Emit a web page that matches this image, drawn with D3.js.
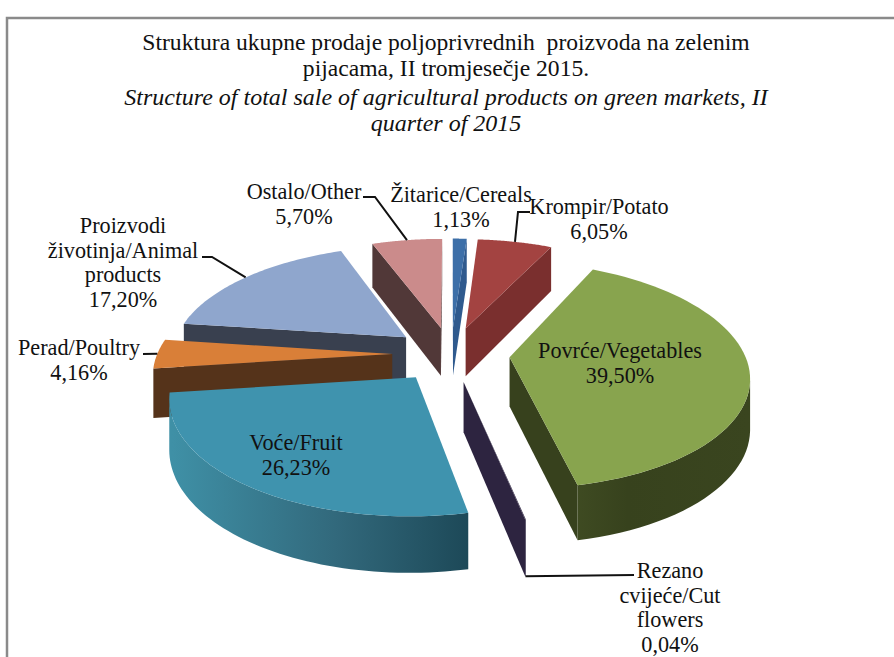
<!DOCTYPE html>
<html>
<head>
<meta charset="utf-8">
<script src="https://cdn.jsdelivr.net/npm/d3@7"></script>
<style>
    html, body { margin: 0; padding: 0; background: #fff; }
    text { font-family: "Liberation Serif", serif; fill: #111; }
</style>
</head>
<body>
<svg id="svg" width="894" height="657"></svg>
<script>
//Data
const CATEGORIES = ["Žitarice/Cereals", "Krompir/Potato", "Povrće/Vegetables", "Rezano cvijeće/Cut flowers", "Voće/Fruit", "Perad/Poultry", "Proizvodi životinja/Animal products", "Ostalo/Other"];
const VALUES = [1.13, 6.05, 39.50, 0.04, 26.23, 4.16, 17.20, 5.70];
const TOP_COLORS = ["#3d6fa8", "#a34341", "#88a44e", "#2d2440", "#3f93ae", "#d97f38", "#8fa6cd", "#cb8b8b"];
const WALL_COLORS = ["#2f5a8e", "#7a2f2e", "#37411d", "#2d2440", "#2b6a7e", "#55331a", "#39404f", "#513838"];
const TITLE_LINES = ["Struktura ukupne prodaje poljoprivrednih  proizvoda na zelenim", "pijacama, II tromjesečje 2015."];
const SUBTITLE_LINES = ["Structure of total sale of agricultural products on green markets, II", "quarter of 2015"];

//Layout of labels: wrapped lines, centre x, first baseline, leader elbows
const LABELS = [
    { lines: ["Žitarice/Cereals"], x: 461, y: 202 },
    { lines: ["Krompir/Potato"], x: 599, y: 214, leader: [[530, 212], [518, 212]] },
    { lines: ["Povrće/Vegetables"], x: 620, y: 358 },
    { lines: ["Rezano", "cvijeće/Cut", "flowers"], x: 670, y: 578, leader: [[634, 575]], bottom: true },
    { lines: ["Voće/Fruit"], x: 296, y: 450 },
    { lines: ["Perad/Poultry"], x: 79, y: 355, leader: [[143, 354]] },
    { lines: ["Proizvodi", "životinja/Animal", "products"], x: 123, y: 233, leader: [[202, 257], [212, 257]] },
    { lines: ["Ostalo/Other"], x: 304, y: 199, leader: [[363, 197], [375, 197]] }
];

//Projection of the tilted pie
const CX = 451;
const CY = 354;
const RADIUS = 235;
const RADIUS_Y = 110;
const PERSPECTIVE = 0.153;
const EXPLODE = 0.25;
const DEPTH = 49;
const ARC_STEPS = 60;

const svg = d3.select("#svg");
const path = d3.line();

function project(x, y, down)
{
    const w = 1 - PERSPECTIVE * y;
    return [CX + RADIUS * x / w, CY + RADIUS_Y * y / w + (down ? DEPTH * Math.pow(w, -0.7) : 0)];
}

function apex(slice, down)
{
    const mid = (slice.startAngle + slice.endAngle) / 2;
    return project(EXPLODE * Math.sin(mid), -EXPLODE * Math.cos(mid), down);
}

function rim(slice, angle, down)
{
    const mid = (slice.startAngle + slice.endAngle) / 2;
    return project(EXPLODE * Math.sin(mid) + Math.sin(angle), -EXPLODE * Math.cos(mid) - Math.cos(angle), down);
}

function arcAngles(slice)
{
    return d3.range(ARC_STEPS + 1).map((i) => slice.startAngle + (slice.endAngle - slice.startAngle) * i / ARC_STEPS);
}

//Frame
svg.append("path").attr("d", path([[7, 657], [7, 18], [894, 18]]))
    .attr("fill", "none").attr("stroke", "#8a8a8a").attr("stroke-width", 2.5);

//Titles
TITLE_LINES.forEach((line, i) => {
    svg.append("text").attr("x", 446).attr("y", 50 + i * 26)
        .attr("text-anchor", "middle").attr("font-size", 23.6)
        .style("white-space", "pre").text(line);
});
SUBTITLE_LINES.forEach((line, i) => {
    svg.append("text").attr("x", 446).attr("y", 105 + i * 26)
        .attr("text-anchor", "middle").attr("font-size", 24).attr("font-style", "italic").text(line);
});

//Gradients for the long outer walls
const defs = svg.append("defs");
const fruitGradient = defs.append("linearGradient").attr("id", "wall-4")
    .attr("gradientUnits", "userSpaceOnUse").attr("x1", 172).attr("x2", 468).attr("y1", 0).attr("y2", 0);
fruitGradient.append("stop").attr("offset", 0).attr("stop-color", "#3f90a6");
fruitGradient.append("stop").attr("offset", 0.55).attr("stop-color", "#32697c");
fruitGradient.append("stop").attr("offset", 1).attr("stop-color", "#1d4958");
const vegGradient = defs.append("linearGradient").attr("id", "wall-2")
    .attr("gradientUnits", "userSpaceOnUse").attr("x1", 575).attr("x2", 750).attr("y1", 0).attr("y2", 0);
vegGradient.append("stop").attr("offset", 0).attr("stop-color", "#3f4b22");
vegGradient.append("stop").attr("offset", 0.3).attr("stop-color", "#37421d");
vegGradient.append("stop").attr("offset", 1).attr("stop-color", "#3a451f");

//Slices
const slices = d3.pie().sort(null).value((d) => d)(VALUES);
const drawOrder = slices.slice().sort((a, b) =>
    -Math.cos((a.startAngle + a.endAngle) / 2) + Math.cos((b.startAngle + b.endAngle) / 2));

drawOrder.forEach((slice) => {
    const g = svg.append("g").attr("class", "slice");
    const top = arcAngles(slice).map((a) => rim(slice, a, false));
    const bottom = arcAngles(slice).map((a) => rim(slice, a, true));

    //Cut faces, only the ones turned to the viewer
    const startFace = [apex(slice, false), top[0], bottom[0], apex(slice, true)];
    const endFace = [top[ARC_STEPS], apex(slice, false), apex(slice, true), bottom[ARC_STEPS]];
    [startFace, endFace].forEach((face) => {
        if(d3.polygonArea(face) > 0)
            g.append("path").attr("d", path(face) + "Z").attr("fill", WALL_COLORS[slice.index]);
    });

    //Outer wall
    const visible = d3.range(ARC_STEPS).filter((i) =>
        d3.polygonArea([top[i], top[i + 1], bottom[i + 1], bottom[i]]) > 0);
    if(visible.length > 0)
    {
        const first = d3.min(visible);
        const last = d3.max(visible) + 1;
        const wall = top.slice(first, last + 1).concat(bottom.slice(first, last + 1).reverse());
        const gradient = !defs.select("#wall-" + slice.index).empty();
        g.append("path").attr("d", path(wall) + "Z")
            .attr("fill", gradient ? "url(#wall-" + slice.index + ")" : WALL_COLORS[slice.index]);
    }

    //Top face
    g.append("path").attr("d", path([apex(slice, false)].concat(top)) + "Z")
        .attr("fill", TOP_COLORS[slice.index]);
});

//Leader lines and labels
LABELS.forEach((label, i) => {
    const slice = slices[i];
    if(label.leader)
    {
        const mid = (slice.startAngle + slice.endAngle) / 2;
        const end = rim(slice, mid, label.bottom === true);
        svg.append("path").attr("d", path(label.leader.concat([end])))
            .attr("fill", "none").attr("stroke", "#111").attr("stroke-width", 2);
    }
    const percent = VALUES[i].toFixed(2).replace(".", ",") + "%";
    label.lines.concat([percent]).forEach((line, j) => {
        svg.append("text").attr("x", label.x).attr("y", label.y + j * 24.6)
            .attr("text-anchor", "middle").attr("font-size", 22.2).text(line);
    });
});
</script>
</body>
</html>
